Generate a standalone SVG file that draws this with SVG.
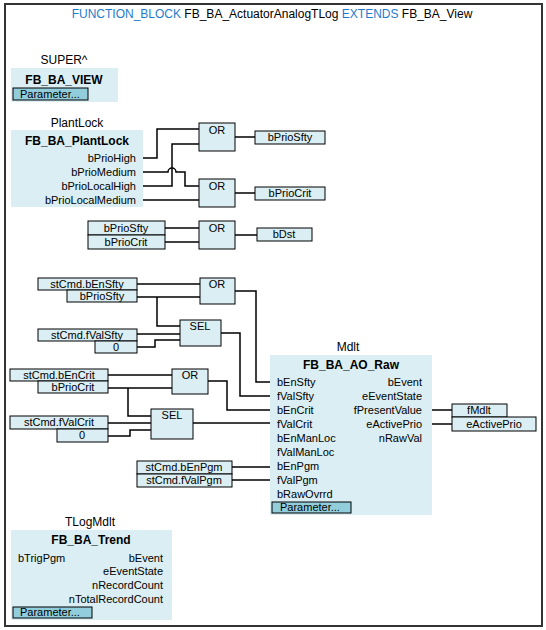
<svg xmlns="http://www.w3.org/2000/svg" width="546" height="630" viewBox="0 0 546 630">
<style>
text{font-family:"Liberation Sans",Arial,sans-serif;font-size:11px;fill:#000}
.t{font-size:12px}
.kw{fill:#1f7ccc}
.b{font-weight:bold;font-size:12px}
.c{text-anchor:middle}
.e{text-anchor:end}
.fb{fill:#daeef3;stroke:none}
.vb{fill:#daeef3;stroke:#000;stroke-width:1}
.op{fill:#daeef3;stroke:#000;stroke-width:1}
.pm{fill:#92cddc;stroke:#000;stroke-width:1}
.w{fill:none;stroke:#000;stroke-width:1.5}
</style>
<rect x="5" y="4" width="537" height="622" fill="#fff" stroke="#333" stroke-width="2"/>
<text class="t c" x="272" y="18"><tspan class="kw">FUNCTION_BLOCK</tspan> FB_BA_ActuatorAnalogTLog <tspan class="kw">EXTENDS</tspan> FB_BA_View</text>

<g id="super">
<text class="c" x="64" y="64" style="font-size:12px">SUPER^</text>
<rect class="fb" x="11" y="68" width="107" height="34"/>
<text class="b c" x="64" y="84">FB_BA_VIEW</text>
<rect class="pm" x="13" y="88" width="75" height="12"/>
<text x="20" y="98">Parameter...</text>
</g>

<g id="plantlock">
<text class="c" x="77" y="127" style="font-size:12px">PlantLock</text>
<rect class="fb" x="11" y="130" width="132" height="77"/>
<text class="b c" x="77" y="145">FB_BA_PlantLock</text>
<text class="e" x="136" y="162">bPrioHigh</text>
<text class="e" x="136" y="176">bPrioMedium</text>
<text class="e" x="136" y="190">bPrioLocalHigh</text>
<text class="e" x="136" y="204">bPrioLocalMedium</text>
</g>

<g id="connectors">
<path class="w" d="M143,158 H157 V129 H199"/>
<path class="w" d="M143,186 H172 V144 H199"/>
<path class="w" d="M143,172 H168 A4,4 0 0 1 176,172 H185 V186 H199"/>
<path class="w" d="M143,200 H199"/>
<path class="w" d="M235,137 H255"/>
<path class="w" d="M235,193 H255"/>
<path class="w" d="M165,228 H199"/>
<path class="w" d="M165,242 H199"/>
<path class="w" d="M235,235 H257"/>
<path class="w" d="M137,284 H200"/>
<path class="w" d="M137,297 H200"/>
<path class="w" d="M157,297 V326 H180"/>
<path class="w" d="M137,334 H180"/>
<path class="w" d="M137,347 H155 V340 H180"/>
<path class="w" d="M235,291 H256 V382 H270"/>
<path class="w" d="M221,333 H240 V396 H270"/>
<path class="w" d="M108,375 H172"/>
<path class="w" d="M108,388 H172"/>
<path class="w" d="M128,388 V416 H151"/>
<path class="w" d="M108,423 H151"/>
<path class="w" d="M108,436 H130 V430 H151"/>
<path class="w" d="M208,381 H227 V410 H270"/>
<path class="w" d="M193,423 H270"/>
<path class="w" d="M232,467 H270"/>
<path class="w" d="M232,480 H270"/>
<path class="w" d="M432,410 H452"/>
<path class="w" d="M432,424 H452"/>
</g>

<g id="or1"><rect class="op" x="199" y="123" width="36" height="28"/><text class="c" x="217" y="134">OR</text></g>
<g id="or2"><rect class="op" x="199" y="179" width="36" height="28"/><text class="c" x="217" y="190">OR</text></g>
<g id="or3"><rect class="op" x="199" y="221" width="36" height="28"/><text class="c" x="217" y="232">OR</text></g>
<g id="out-bPrioSfty"><rect class="vb" x="255" y="131" width="70" height="13"/><text class="c" x="290" y="141">bPrioSfty</text></g>
<g id="out-bPrioCrit"><rect class="vb" x="255" y="187" width="70" height="13"/><text class="c" x="290" y="197">bPrioCrit</text></g>
<g id="out-bDst"><rect class="vb" x="257" y="228" width="55" height="13"/><text class="c" x="284" y="238">bDst</text></g>
<g id="in-bPrioSfty"><rect class="vb" x="88" y="221" width="77" height="14"/><text class="c" x="126" y="232">bPrioSfty</text></g>
<g id="in-bPrioCrit"><rect class="vb" x="88" y="235" width="77" height="14"/><text class="c" x="126" y="246">bPrioCrit</text></g>

<g id="in-bEnSfty"><rect class="vb" x="38" y="278" width="99" height="12"/><text class="c" x="87" y="288">stCmd.bEnSfty</text></g>
<g id="in-bPrioSfty2"><rect class="vb" x="67" y="290" width="70" height="12"/><text class="c" x="102" y="300">bPrioSfty</text></g>
<g id="or4"><rect class="op" x="200" y="278" width="35" height="26"/><text class="c" x="217" y="288">OR</text></g>
<g id="sel1"><rect class="op" x="180" y="320" width="41" height="26"/><text class="c" x="200" y="330">SEL</text></g>
<g id="in-fValSfty"><rect class="vb" x="38" y="329" width="99" height="12"/><text class="c" x="87" y="339">stCmd.fValSfty</text></g>
<g id="in-zero1"><rect class="vb" x="95" y="341" width="42" height="12"/><text class="c" x="116" y="351">0</text></g>

<g id="in-bEnCrit"><rect class="vb" x="10" y="369" width="98" height="12"/><text class="c" x="59" y="379">stCmd.bEnCrit</text></g>
<g id="in-bPrioCrit2"><rect class="vb" x="38" y="381" width="70" height="12"/><text class="c" x="73" y="391">bPrioCrit</text></g>
<g id="or5"><rect class="op" x="172" y="369" width="36" height="25"/><text class="c" x="190" y="379">OR</text></g>
<g id="sel2"><rect class="op" x="151" y="409" width="42" height="30"/><text class="c" x="172" y="419">SEL</text></g>
<g id="in-fValCrit"><rect class="vb" x="10" y="416" width="98" height="13"/><text class="c" x="59" y="426">stCmd.fValCrit</text></g>
<g id="in-zero2"><rect class="vb" x="57" y="429" width="51" height="13"/><text class="c" x="82" y="439">0</text></g>
<g id="in-bEnPgm"><rect class="vb" x="137" y="461" width="95" height="13"/><text class="c" x="184" y="471">stCmd.bEnPgm</text></g>
<g id="in-fValPgm"><rect class="vb" x="137" y="474" width="95" height="13"/><text class="c" x="184" y="484">stCmd.fValPgm</text></g>

<g id="mdlt">
<text class="c" x="348" y="351" style="font-size:12px">Mdlt</text>
<rect class="fb" x="270" y="355" width="162" height="160"/>
<text class="b c" x="351" y="369">FB_BA_AO_Raw</text>
<text x="277" y="386">bEnSfty</text>
<text x="277" y="400">fValSfty</text>
<text x="277" y="414">bEnCrit</text>
<text x="277" y="428">fValCrit</text>
<text x="277" y="442">bEnManLoc</text>
<text x="277" y="456">fValManLoc</text>
<text x="277" y="470">bEnPgm</text>
<text x="277" y="484">fValPgm</text>
<text x="277" y="498">bRawOvrrd</text>
<text class="e" x="422" y="386">bEvent</text>
<text class="e" x="422" y="400">eEventState</text>
<text class="e" x="422" y="414">fPresentValue</text>
<text class="e" x="422" y="428">eActivePrio</text>
<text class="e" x="422" y="442">nRawVal</text>
<rect class="pm" x="272" y="502" width="79" height="11"/>
<text x="280" y="511">Parameter...</text>
</g>
<g id="out-fMdlt"><rect class="vb" x="452" y="404" width="55" height="13"/><text class="c" x="479" y="414">fMdlt</text></g>
<g id="out-eActivePrio"><rect class="vb" x="452" y="417" width="84" height="14"/><text class="c" x="494" y="428">eActivePrio</text></g>

<g id="tlogmdlt">
<text class="c" x="90" y="526" style="font-size:12px">TLogMdlt</text>
<rect class="fb" x="11" y="530" width="161" height="90"/>
<text class="b c" x="91" y="544">FB_BA_Trend</text>
<text x="18" y="562">bTrigPgm</text>
<text class="e" x="163" y="562">bEvent</text>
<text class="e" x="163" y="575">eEventState</text>
<text class="e" x="163" y="589">nRecordCount</text>
<text class="e" x="163" y="603">nTotalRecordCount</text>
<rect class="pm" x="13" y="607" width="79" height="11"/>
<text x="20" y="616">Parameter...</text>
</g>
</svg>
